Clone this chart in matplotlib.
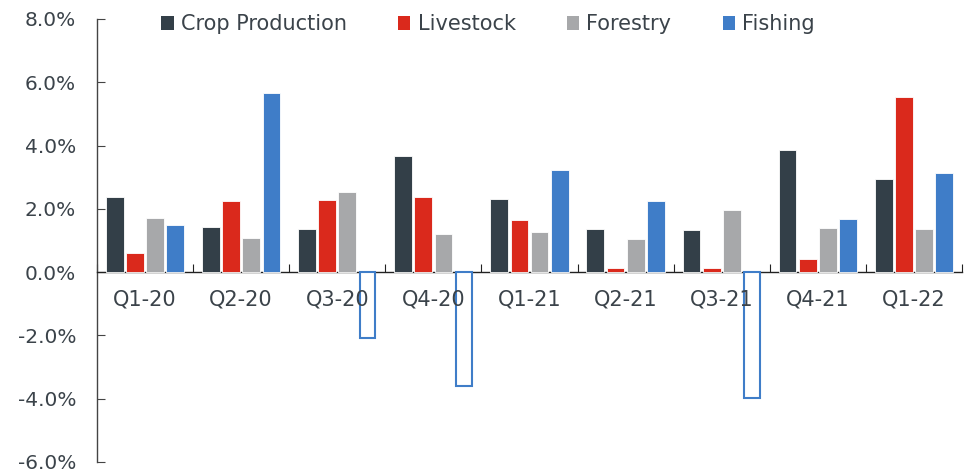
import matplotlib
matplotlib.use("Agg")
import matplotlib.pyplot as plt
from matplotlib.patches import Patch
import numpy as np

categories = ["Q1-20", "Q2-20", "Q3-20", "Q4-20", "Q1-21", "Q2-21", "Q3-21", "Q4-21", "Q1-22"]
crop = [2.37, 1.42, 1.36, 3.67, 2.31, 1.36, 1.33, 3.85, 2.94]
livestock = [0.60, 2.24, 2.27, 2.37, 1.64, 0.13, 0.12, 0.41, 5.53]
forestry = [1.71, 1.07, 2.53, 1.20, 1.26, 1.04, 1.96, 1.39, 1.36]
fishing = [1.48, 5.66, -2.07, -3.60, 3.22, 2.24, -3.98, 1.67, 3.13]
series_names = ["Crop Production", "Livestock", "Forestry", "Fishing"]
yticks = [-6, -4, -2, 0, 2, 4, 6, 8]

colors = ["#333F48", "#DA291C", "#A7A8AA", "#3F7DC8"]
txt = "#3B434A"

plt.rcParams['font.family'] = ['DejaVu Sans']
fig = plt.figure(figsize=(9.69, 4.75), dpi=100)
ax = fig.add_axes([0.1001, 0.0274, 0.8927, 0.9326])

n = len(categories)
x = np.arange(n)
bw = 0.185
step = 0.21
offsets = (np.arange(4) - 1.5) * step
allser = [crop, livestock, forestry, fishing]
for i, (vals, col) in enumerate(zip(allser, colors)):
    for xi, v in zip(x, vals):
        if i == 3 and v < 0:
            ax.bar(xi + offsets[i], v, width=bw - 0.02, facecolor="white",
                   edgecolor=col, linewidth=1.5, zorder=3)
        else:
            ax.bar(xi + offsets[i], v, width=bw, color=col, edgecolor="white",
                   linewidth=0.6, zorder=3)

ax.set_xlim(-0.5, n - 0.5)
ax.set_ylim(-6, 8)
ax.spines['top'].set_visible(False)
ax.spines['right'].set_visible(False)
ax.spines['bottom'].set_position(('data', 0))
ax.spines['bottom'].set_color("#222222")
ax.spines['left'].set_color("#444444")
ax.spines['bottom'].set_linewidth(1.0)
ax.spines['left'].set_linewidth(1.0)
ax.set_xticks(np.arange(n + 1) - 0.5)
ax.set_xticklabels([])
ax.tick_params(axis='x', direction='in', length=6, color="#222222")
ax.set_yticks(yticks)
ax.set_yticklabels([f"{v:.1f}%" for v in yticks])
ax.tick_params(axis='y', direction='in', length=6, color="#444444",
               labelsize=14.5, labelcolor=txt, pad=15)
for xi, lab in zip(x, categories):
    ax.text(xi, -0.88, lab, ha='center', va='center', fontsize=15, color=txt, zorder=5)

handles = [Patch(facecolor=c, edgecolor='none') for c in colors]
ax.legend(handles, series_names, ncol=4, loc='upper center', bbox_to_anchor=(0.452, 1.053),
          frameon=False, fontsize=15, labelcolor=txt, handlelength=0.6, handleheight=0.6,
          handletextpad=0.35, columnspacing=2.45)

fig.savefig("out.png", dpi=100)
